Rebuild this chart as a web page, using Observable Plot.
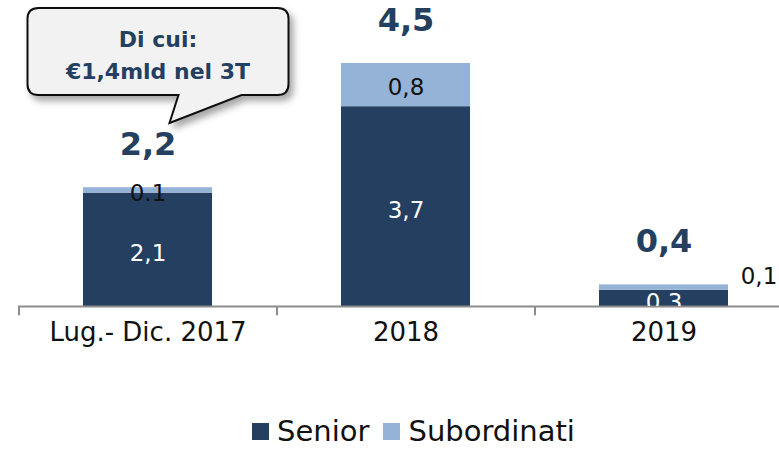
<!DOCTYPE html>
<html>
<head>
<meta charset="utf-8">
<script src="https://cdn.jsdelivr.net/npm/d3@7"></script>
<script src="https://cdn.jsdelivr.net/npm/@observablehq/plot@0.6"></script>
<style>
  body { margin: 0; background: #fff; width: 779px; height: 449px; overflow: hidden; font-family: "DejaVu Sans", sans-serif; }
  #legend { display: flex; align-items: center; justify-content: center; margin-top: 15px; padding-left: 48px; font-size: 29px; line-height: 33px; color: #111; height: 33px; }
  .sw { display: inline-block; width: 17px; height: 17px; margin-right: 8px; }
</style>
</head>
<body>
<div id="chart"></div>
<div id="legend"></div>
<script>
const categories = ["Lug.- Dic. 2017", "2018", "2019"];
const seriesNames = ["Senior", "Subordinati"];
const senior = [2.1, 3.7, 0.3];
const subordinati = [0.1, 0.8, 0.1];
const seniorLabels = ["2,1", "3,7", "0,3"];
const subLabels = ["0.1", "0,8", "0,1"];
const totalLabels = ["2,2", "4,5", "0,4"];
const calloutLines = ["Di cui:", "€1,4mld nel 3T"];
const colors = ["#243f60", "#95b3d7"];
const navy = "#243f60";

const rows = [];
categories.forEach((c, i) => {
  rows.push({cat: c, series: "Senior", base: 0, top: senior[i], label: seniorLabels[i], i});
  rows.push({cat: c, series: "Subordinati", base: senior[i], top: senior[i] + subordinati[i], label: subLabels[i], i});
});
const totals = categories.map((c, i) => ({cat: c, total: senior[i] + subordinati[i], label: totalLabels[i]}));

const seniorRows = rows.filter(d => d.series === "Senior");
const subInside = rows.filter(d => d.series === "Subordinati" && d.i !== 2);
const subOutside = rows.filter(d => d.series === "Subordinati" && d.i === 2);

const plot = Plot.plot({
  width: 779,
  height: 400,
  marginLeft: 18,
  marginRight: 0,
  marginTop: 0,
  marginBottom: 94,
  style: {fontFamily: "DejaVu Sans, sans-serif", background: "white", overflow: "visible"},
  x: {domain: categories, range: [18, 792], paddingInner: 0.5, paddingOuter: 0.25, label: null, axis: null},
  y: {domain: [0, 306 / 54], range: [306, 0], axis: null},
  color: {domain: seriesNames, range: colors},
  marks: [
    Plot.barY(rows, {x: "cat", y1: "base", y2: "top", fill: "series"}),
    Plot.ruleY([0], {stroke: "#8c8c8c", strokeWidth: 2}),
    Plot.ruleX(categories, {x: d => d, y1: 0, y2: -0.17, dx: -129, stroke: "#8c8c8c", strokeWidth: 2}),
    Plot.axisX({tickSize: 0, tickPadding: 16, fontSize: 26, color: "#111", fill: "#111"}),
    Plot.text(seniorRows, {x: "cat", y: d => (d.base + d.top) / 2, text: "label", fill: "white", fontSize: 23, dy: 4, clip: "frame"}),
    Plot.text(subInside, {x: "cat", y: d => (d.base + d.top) / 2, text: "label", fill: "#111", fontSize: 23, dy: 3}),
    Plot.text(subOutside, {x: "cat", y: d => (d.base + d.top) / 2, text: "label", fill: "#111", fontSize: 23, dx: 95, dy: -11}),
    Plot.text(totals, {x: "cat", y: "total", text: "label", fill: navy, fontSize: 32, fontWeight: "bold", dy: -43})
  ]
});
document.getElementById("chart").appendChild(plot);

// Callout bubble anchored to first bar
const xs = plot.scale("x");
const cx = xs.apply(categories[0]) + xs.bandwidth / 2;
const svg = d3.select(plot);
const defs = svg.append("defs");
const f = defs.append("filter").attr("id", "shadow").attr("x", "-20%").attr("y", "-20%").attr("width", "140%").attr("height", "150%");
f.append("feDropShadow").attr("dx", 4).attr("dy", 5).attr("stdDeviation", 3.5).attr("flood-color", "#000").attr("flood-opacity", 0.35);

const L = cx - 120, R = cx + 141, T = 8, B = 95, r = 11;
const tipX = cx + 22, tipY = 123, b1 = cx + 31, b2 = cx + 94;
const path = `M${L + r},${T} H${R - r} Q${R},${T} ${R},${T + r} V${B - r} Q${R},${B} ${R - r},${B} H${b2} L${tipX},${tipY} L${b1},${B} H${L + r} Q${L},${B} ${L},${B - r} V${T + r} Q${L},${T} ${L + r},${T} Z`;
const g = svg.append("g");
g.append("path").attr("d", path).attr("fill", "#f2f2f2").attr("stroke", "#111").attr("stroke-width", 2).attr("filter", "url(#shadow)");
const midX = (L + R) / 2;
g.append("text").attr("x", midX).attr("y", 47).attr("text-anchor", "middle").attr("font-size", 22).attr("font-weight", "bold").attr("fill", navy).attr("font-family", "DejaVu Sans, sans-serif").text(calloutLines[0]);
g.append("text").attr("x", midX).attr("y", 79).attr("text-anchor", "middle").attr("font-size", 22).attr("font-weight", "bold").attr("fill", navy).attr("font-family", "DejaVu Sans, sans-serif").text(calloutLines[1]);

// Legend
const leg = document.getElementById("legend");
seriesNames.forEach((s, i) => {
  const item = document.createElement("span");
  item.style.display = "inline-flex";
  item.style.alignItems = "center";
  item.style.marginRight = i === 0 ? "14px" : "0";
  const sw = document.createElement("span");
  sw.className = "sw";
  sw.style.background = colors[i];
  item.appendChild(sw);
  item.appendChild(document.createTextNode(s));
  leg.appendChild(item);
});
</script>
</body>
</html>
